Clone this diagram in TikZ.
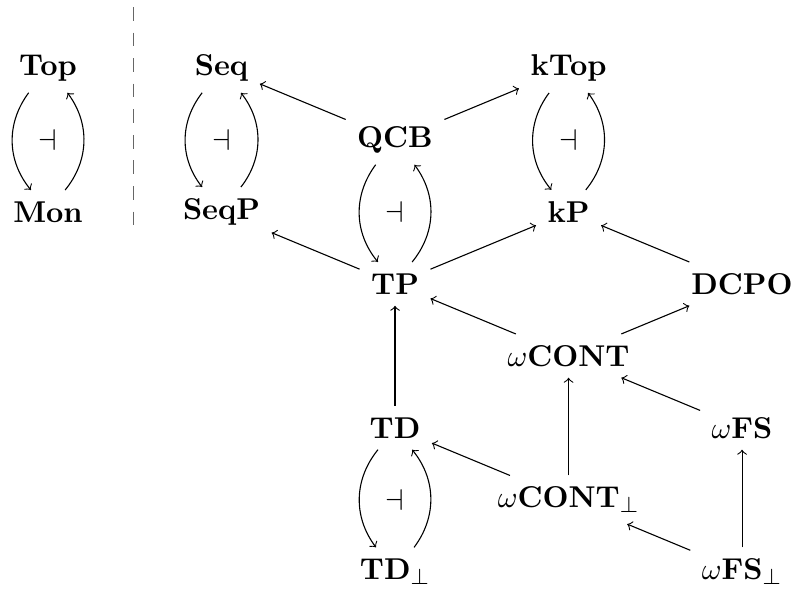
\documentclass[tikz,border=0pt]{standalone}
\usepackage{tikz}
\usetikzlibrary{positioning,arrows}

\tikzset{
	cat/.style={inner sep=4pt},
	adj/.style={->,bend right=38},
	fun/.style={->}
}

\begin{document}
\begin{tikzpicture}[node distance=0.92cm and 2.218cm,on grid,
		font=\fontsize{10.8pt}{13pt}\selectfont]
	\useasboundingbox (0,0) rectangle (10.15,-7.54);
	% Left adjunction
	\node[cat] (Top) at (0.614,-0.869) {$\mathbf{Top}$};
	\node (adjTop) [below=of Top] {$\dashv$};
	\node[cat] (Mon) [below=of adjTop] {$\mathbf{Mon}$};
	\coordinate (sepTop) at (1.707,-0.09);
	\coordinate (sepBot) at (1.707,-2.876);
	\draw[gray!80!black,dash pattern=on 5pt off 4.3pt] (sepTop) -- (sepBot);
	% Top row
	\node[cat] (Seq) [right=of Top] {$\mathbf{Seq}$};
	\node (adjSeq) [below=of Seq] {$\dashv$};
	\node[cat] (SeqP) [below=of adjSeq] {$\mathbf{SeqP}$};
	\node[cat] (QCB) [right=of adjSeq] {$\mathbf{QCB}$};
	\node (adjQCB) [below=of QCB] {$\dashv$};
	\node[cat] (TP) [below=of adjQCB] {$\mathbf{TP}$};
	\node[cat] (kTop) [right=4.436cm of Seq] {$\mathbf{kTop}$};
	\node (adjkTop) [below=of kTop] {$\dashv$};
	\node[cat] (kP) [below=of adjkTop] {$\mathbf{kP}$};
	% Lower part
	\node[cat] (DCPO) [right=4.436cm of TP] {$\mathbf{DCPO}$};
	\node[cat] (wCONT) [below=1.84cm of kP] {$\omega\mathbf{CONT}$};
	\node[cat] (TD) [below=2.76cm of adjQCB] {$\mathbf{TD}$};
	\node (adjTD) [below=of TD] {$\dashv$};
	\node[cat] (TDb) [below=of adjTD] {$\mathbf{TD}_\perp$};
	\node[cat] (wFS) [below=2.76cm of kP,xshift=2.218cm] {$\omega\mathbf{FS}$};
	\node[cat] (wCONTb) [below=1.84cm of wCONT] {$\omega\mathbf{CONT}_\perp$};
	\node[cat] (wFSb) [below=1.84cm of wFS] {$\omega\mathbf{FS}_\perp$};
	% Adjunctions
	\foreach \a/\b in {Top/Mon,Seq/SeqP,QCB/TP,kTop/kP,TD/TDb}{
		\draw[adj] (\a) to (\b);
		\draw[adj] (\b) to (\a);
	}
	% Functors
	\draw[fun] (QCB) -- (Seq);
	\draw[fun] (QCB) -- (kTop);
	\draw[fun] (TP) -- (SeqP);
	\draw[fun] (TP) -- (kP);
	\draw[fun] (DCPO) -- (kP);
	\draw[fun] (wCONT) -- (TP);
	\draw[fun] (wCONT) -- (DCPO);
	\draw[fun] (wFS) -- (wCONT);
	\draw[fun] (TD) -- (TP);
	\draw[fun] (wCONTb) -- (TD);
	\draw[fun] (wCONTb) -- (wCONT);
	\draw[fun] (wFSb) -- (wCONTb);
	\draw[fun] (wFSb) -- (wFS);
\end{tikzpicture}
\end{document}
